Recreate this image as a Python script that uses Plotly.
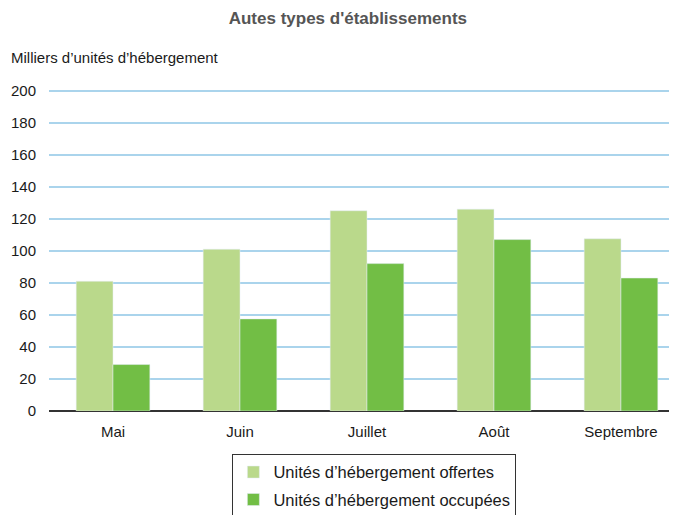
import plotly.graph_objects as go

mois = ["Mai", "Juin", "Juillet", "Août", "Septembre"]
offertes = [81, 101, 125, 126, 107.5]
occupees = [29, 57.5, 92, 107, 83]
y_ticks = [0, 20, 40, 60, 80, 100, 120, 140, 160, 180, 200]

fig = go.Figure()
fig.add_trace(go.Bar(x=mois, y=offertes, name="Unités d’hébergement offertes",
                     marker_color="#bad98b", legendgroup="a"))
fig.add_trace(go.Bar(x=mois, y=occupees, name="Unités d’hébergement occupées",
                     marker_color="#72be45", legendgroup="b"))

# the page body adds 8px around the figure, so margins are shifted by that
fig.update_layout(
    width=677, height=515,
    margin=dict(l=41, r=8, t=81, b=112, autoexpand=False),
    paper_bgcolor="white", plot_bgcolor="white",
    font=dict(family="Liberation Sans, Arial, sans-serif", size=15, color="#1a1a1a"),
    barmode="group", bargap=0.42, bargroupgap=0,
    title=dict(text="<b>Autes types d'établissements</b>", x=0.502, xanchor="center",
               y=0.98, yanchor="middle", font=dict(size=17, color="#555555")),
    xaxis=dict(range=[-0.504, 4.441], showgrid=False, ticks="", showline=False,
               automargin=False, ticklabelstandoff=10, tickfont=dict(size=15)),
    yaxis=dict(range=[0, 201], tickvals=y_ticks, showgrid=True, gridcolor="#aad4ec",
               gridwidth=2, zeroline=True, zerolinecolor="#333333", zerolinewidth=2,
               ticks="", ticklabelstandoff=12, showline=False, automargin=False,
               tickfont=dict(size=15)),
    legend=dict(x=0.292, xanchor="left", y=-0.133, yanchor="top",
                bordercolor="#333333", borderwidth=1, tracegroupgap=3,
                itemwidth=30, font=dict(size=16.5), traceorder="grouped"),
    annotations=[dict(text="Milliers d’unités d’hébergement", xref="paper", yref="paper",
                      x=-0.064, xanchor="left", y=1.099, yanchor="middle",
                      showarrow=False, font=dict(size=15))],
)

fig.write_html("out.html")
